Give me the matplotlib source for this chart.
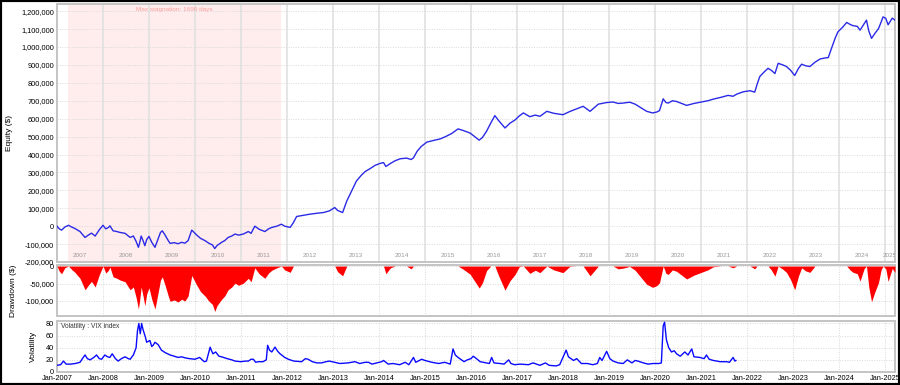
import numpy as np
import matplotlib
matplotlib.use("Agg")
import matplotlib.pyplot as plt
from matplotlib.ticker import FuncFormatter, MultipleLocator
from matplotlib.patches import Rectangle
import matplotlib.transforms as mtransforms

plt.rcParams['font.family'] = ['Liberation Sans', 'DejaVu Sans']

# equity curve, decimal year -> thousands of $
eq_year = [
    2007.00, 2007.05, 2007.10, 2007.17, 2007.25, 2007.32, 2007.39, 2007.50, 2007.61, 2007.68,
    2007.75, 2007.83, 2007.92, 2008.00, 2008.06, 2008.12, 2008.15, 2008.22, 2008.30, 2008.37,
    2008.48, 2008.59, 2008.66, 2008.72, 2008.77, 2008.80, 2008.83, 2008.87, 2008.91, 2008.95,
    2009.00, 2009.06, 2009.13, 2009.20, 2009.25, 2009.29, 2009.35, 2009.42, 2009.46, 2009.55,
    2009.63, 2009.71, 2009.78, 2009.85, 2009.93, 2010.00, 2010.04, 2010.12, 2010.22, 2010.30,
    2010.38, 2010.43, 2010.48, 2010.58, 2010.65, 2010.72, 2010.80, 2010.87, 2010.95, 2011.05,
    2011.16, 2011.22, 2011.30, 2011.40, 2011.52, 2011.60, 2011.67, 2011.78, 2011.88, 2011.95,
    2012.07, 2012.14, 2012.21, 2012.35, 2012.50, 2012.65, 2012.79, 2012.92, 2013.04, 2013.10,
    2013.21, 2013.30, 2013.37, 2013.45, 2013.51, 2013.62, 2013.70, 2013.80, 2013.92, 2014.02,
    2014.10, 2014.15, 2014.25, 2014.35, 2014.46, 2014.60, 2014.70, 2014.75, 2014.83, 2014.92,
    2015.04, 2015.18, 2015.33, 2015.45, 2015.58, 2015.65, 2015.72, 2015.82, 2015.98, 2016.08,
    2016.18, 2016.25, 2016.34, 2016.43, 2016.52, 2016.60, 2016.74, 2016.85, 2016.96, 2017.05,
    2017.14, 2017.28, 2017.40, 2017.50, 2017.65, 2017.80, 2018.00, 2018.15, 2018.30, 2018.44,
    2018.59, 2018.77, 2018.95, 2019.09, 2019.20, 2019.31, 2019.45, 2019.57, 2019.70, 2019.82,
    2019.95, 2020.04, 2020.10, 2020.18, 2020.24, 2020.29, 2020.38, 2020.47, 2020.58, 2020.69,
    2020.85, 2021.01, 2021.15, 2021.27, 2021.45, 2021.59, 2021.70, 2021.78, 2021.92, 2022.07,
    2022.17, 2022.22, 2022.28, 2022.38, 2022.46, 2022.53, 2022.61, 2022.68, 2022.78, 2022.86,
    2022.95, 2023.04, 2023.12, 2023.19, 2023.28, 2023.37, 2023.48, 2023.59, 2023.68, 2023.77,
    2023.84, 2023.92, 2023.98, 2024.08, 2024.17, 2024.25, 2024.31, 2024.40, 2024.46, 2024.55,
    2024.60, 2024.65, 2024.71, 2024.78, 2024.86, 2024.92, 2024.96, 2025.02, 2025.07, 2025.16,
    2025.22,
]
eq_k = [
    0, -15, -22, -5, 5, -5, -13, -30, -63, -50,
    -39, -55, -20, 5, -15, -7, 2, -26, -30, -35,
    -40, -63, -55, -85, -118, -90, -55, -80, -109, -75,
    -57, -90, -118, -70, -35, -26, -50, -81, -96, -92,
    -98, -90, -95, -81, -22, -40, -50, -68, -81, -95,
    -105, -125, -108, -90, -80, -63, -55, -44, -50, -44,
    -30, -40, 0, -18, -30, -15, -7, 0, 11, 0,
    -7, 20, 54, 60, 67, 72, 76, 85, 104, 88,
    76, 140, 178, 220, 252, 285, 305, 320, 340, 350,
    355, 333, 350, 365, 376, 380, 372, 381, 418, 445,
    469, 478, 487, 500, 517, 530, 543, 535, 520, 500,
    480, 495, 530, 575, 617, 590, 548, 575, 593, 615,
    632, 611, 620, 613, 641, 630, 622, 640, 655, 669,
    641, 681, 690, 693, 685, 687, 692, 681, 660, 641,
    632, 637, 645, 711, 690, 687, 700, 696, 685, 674,
    685, 693, 700, 709, 720, 730, 725, 737, 750, 756,
    748, 790, 835, 862, 881, 870, 852, 909, 900, 891,
    870, 841, 880, 904, 895, 891, 915, 933, 938, 941,
    993, 1050, 1085, 1110, 1137, 1125, 1119, 1115, 1094, 1130,
    1150, 1090, 1048, 1075, 1102, 1140, 1168, 1160, 1124, 1161,
    1150,
]

# VIX index
vix_year = [
    2007.00, 2007.08, 2007.14, 2007.20, 2007.30, 2007.40, 2007.50, 2007.58, 2007.61, 2007.66,
    2007.72, 2007.80, 2007.86, 2007.92, 2007.97, 2008.04, 2008.10, 2008.15, 2008.20, 2008.27,
    2008.33, 2008.40, 2008.48, 2008.55, 2008.59, 2008.66, 2008.72, 2008.75, 2008.78, 2008.81,
    2008.84, 2008.87, 2008.92, 2008.95, 2009.02, 2009.06, 2009.09, 2009.13, 2009.20, 2009.27,
    2009.35, 2009.46, 2009.55, 2009.63, 2009.71, 2009.80, 2009.88, 2010.00, 2010.10, 2010.20,
    2010.25, 2010.33, 2010.36, 2010.39, 2010.45, 2010.52, 2010.58, 2010.70, 2010.80, 2010.87,
    2011.00, 2011.10, 2011.16, 2011.22, 2011.27, 2011.32, 2011.38, 2011.48, 2011.55, 2011.58,
    2011.62, 2011.67, 2011.74, 2011.80, 2011.85, 2011.95, 2012.03, 2012.15, 2012.32, 2012.40,
    2012.46, 2012.55, 2012.65, 2012.75, 2012.85, 2012.92, 2013.04, 2013.15, 2013.33, 2013.48,
    2013.58, 2013.70, 2013.77, 2013.85, 2014.06, 2014.10, 2014.20, 2014.30, 2014.45, 2014.57,
    2014.65, 2014.75, 2014.80, 2014.93, 2015.00, 2015.15, 2015.30, 2015.43, 2015.55, 2015.61,
    2015.66, 2015.72, 2015.85, 2015.92, 2016.00, 2016.05, 2016.12, 2016.20, 2016.27, 2016.40,
    2016.45, 2016.50, 2016.63, 2016.72, 2016.82, 2016.87, 2016.95, 2017.07, 2017.25, 2017.35,
    2017.50, 2017.62, 2017.70, 2017.85, 2017.93, 2018.07, 2018.12, 2018.23, 2018.30, 2018.40,
    2018.53, 2018.65, 2018.75, 2018.80, 2018.85, 2018.95, 2019.02, 2019.09, 2019.20, 2019.31,
    2019.40, 2019.50, 2019.57, 2019.63, 2019.75, 2019.85, 2019.96, 2020.09, 2020.14, 2020.18,
    2020.21, 2020.25, 2020.30, 2020.36, 2020.42, 2020.47, 2020.55, 2020.65, 2020.72, 2020.80,
    2020.85, 2020.98, 2021.07, 2021.12, 2021.18, 2021.27, 2021.35, 2021.41, 2021.48, 2021.56,
    2021.62, 2021.70, 2021.74, 2021.76,
]
vix = [
    11, 12, 18, 13, 13, 14, 16, 25, 28, 22,
    20, 24, 28, 22, 21, 28, 25, 24, 30, 22,
    18, 22, 25, 22, 21, 28, 40, 68, 80, 63,
    80, 70, 58, 49, 52, 42, 44, 49, 45, 36,
    32, 28, 26, 24, 25, 23, 22, 21, 24, 17,
    18, 41, 35, 30, 33, 26, 25, 22, 20, 18,
    17, 18, 18, 21, 21, 16, 17, 17, 20, 44,
    36, 33, 41, 34, 30, 24, 21, 18, 17, 22,
    21, 17, 15, 15, 17, 18, 16, 14, 15, 17,
    14, 16, 16, 13, 17, 19, 13, 14, 12, 16,
    12, 24, 16, 21, 19, 16, 14, 16, 13, 38,
    28, 24, 17, 20, 22, 26, 22, 17, 16, 14,
    24, 15, 14, 13, 20, 14, 12, 13, 12, 15,
    11, 15, 11, 10, 12, 36, 25, 19, 22, 14,
    14, 12, 14, 24, 19, 34, 22, 18, 15, 14,
    20, 15, 19, 18, 15, 13, 14, 14, 15, 76,
    82, 53, 40, 33, 35, 30, 26, 33, 28, 38,
    25, 24, 22, 28, 21, 19, 18, 17, 17, 17,
    16, 24, 18, 19,
]

stag_start, stag_end = 2007.24, 2011.87
stag_label = "Max stagnation: 1690 days"
years = list(range(2007, 2026))
x_end = 2025.22

eq = np.array(eq_k) * 1000.0
dd = eq - np.maximum.accumulate(eq)

W, H = 900, 385
fig = plt.figure(figsize=(W / 100, H / 100), dpi=100)
fig.patch.set_facecolor('white')

def frac(x0, y0, x1, y1):
    return [x0 / W, 1 - y1 / H, (x1 - x0) / W, (y1 - y0) / H]

ax1 = fig.add_axes(frac(57, 4, 895, 262))
ax2 = fig.add_axes(frac(57, 265, 895, 316), sharex=ax1)
ax3 = fig.add_axes(frac(57, 321, 895, 372), sharex=ax1)

tick_fs = 5.3
frame_col = '#c4c4c4'
grid_col = '#d9d9d9'

for ax in (ax1, ax2, ax3):
    for s in ax.spines.values():
        s.set_color(frame_col)
        s.set_linewidth(1.4)
    ax.tick_params(length=0, labelsize=tick_fs, labelcolor='#000000', pad=2)
    ax.yaxis.grid(True, linestyle=(0, (1, 1.5)), color=grid_col, linewidth=0.7)
    ax.set_axisbelow(True)

# equity panel
ax1.axvspan(stag_start, stag_end, color='#ffecec', lw=0, zorder=0)
for yr in years[1:]:
    ax1.axvline(yr, color='#e0e0e0', lw=1.2, zorder=0.5)
ax1.plot(eq_year, eq, color='#2a2ae6', lw=1.0, zorder=3)
ax1.set_ylim(-200000, 1240000)
ax1.yaxis.set_major_locator(MultipleLocator(100000))
ax1.yaxis.set_major_formatter(FuncFormatter(lambda v, p: f"{v:,.0f}"))
ax1.set_xlim(2007.0, x_end)
ax1.tick_params(axis='x', labelbottom=False)
ax1.set_ylabel('Equity ($)', fontsize=6)
ax1.yaxis.set_label_coords(-0.0525, 0.5)
trans = mtransforms.blended_transform_factory(ax1.transData, ax1.transAxes)
for yr in years:
    xc = (yr + min(yr + 1, x_end)) / 2
    ax1.text(xc, 0.024, str(yr), transform=trans, ha='center', va='center',
             fontsize=4.6, color='#9a9a9a', clip_on=True)
ax1.text((stag_start + stag_end) / 2, 0.977, stag_label, transform=trans,
         ha='center', va='center', fontsize=4.6, color='#ff9f9f')

# drawdown panel
ax2.fill_between(eq_year, dd, 0, color='#ff0000', lw=0, zorder=3)
ax2.set_ylim(-143000, 3000)
ax2.set_yticks([0, -50000, -100000])
ax2.yaxis.set_major_formatter(FuncFormatter(lambda v, p: f"{v:,.0f}"))
ax2.tick_params(axis='x', labelbottom=False)
ax2.set_ylabel('Drawdown ($)', fontsize=6)
ax2.yaxis.set_label_coords(-0.0477, 0.5)

# volatility panel
ax3.plot(vix_year, vix, color='#0a0aff', lw=1.0, zorder=3)
ax3.set_ylim(0, 84)
ax3.set_yticks([0, 20, 40, 60, 80])
ax3.set_ylabel('Volatility', fontsize=6)
ax3.yaxis.set_label_coords(-0.0239, 0.5)
ax3.text(0.005, 0.9, 'Volatility : VIX index', transform=ax3.transAxes,
         fontsize=4.8, color='#333333', ha='left', va='center')

for ax in (ax2, ax3):
    ax.xaxis.grid(True, linestyle=(0, (1, 1.5)), color=grid_col, linewidth=0.7)

ax3.set_xticks(years)
ax3.set_xticklabels([f"Jan-{y}" for y in years])
ax3.tick_params(axis='x', pad=2.5)

fig.patches.append(Rectangle((0, 0), 1, 1, transform=fig.transFigure, fill=False,
                             edgecolor='black', linewidth=3))

fig.savefig('out.png', dpi=100)
